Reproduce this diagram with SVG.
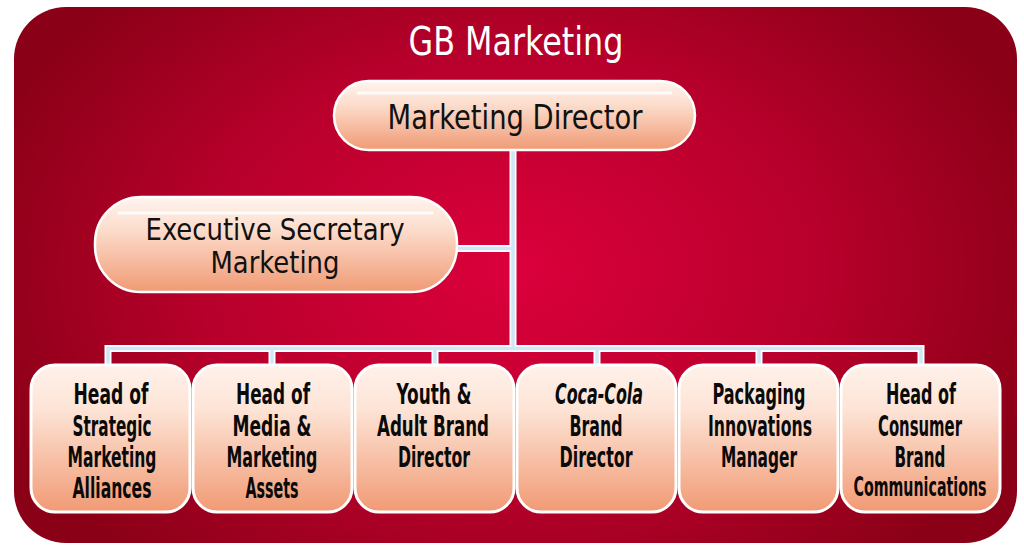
<svg xmlns="http://www.w3.org/2000/svg" width="1024" height="551" viewBox="0 0 1024 551">
<defs>
<radialGradient id="bg" cx="512" cy="270" r="560" gradientUnits="userSpaceOnUse" gradientTransform="translate(512 270) scale(1 0.7) translate(-512 -270)">
<stop offset="0" stop-color="#dc003c"/>
<stop offset="0.55" stop-color="#b8002c"/>
<stop offset="1" stop-color="#8a0016"/>
</radialGradient>
<linearGradient id="nodeg" x1="0" y1="0" x2="0" y2="1">
<stop offset="0" stop-color="#fff4ee"/>
<stop offset="0.35" stop-color="#fcdccb"/>
<stop offset="1" stop-color="#f09a74"/>
</linearGradient>
<linearGradient id="boxg" x1="0" y1="0" x2="0" y2="1">
<stop offset="0" stop-color="#fff1ea"/>
<stop offset="0.3" stop-color="#fde4d6"/>
<stop offset="1" stop-color="#f19a74"/>
</linearGradient>
</defs>
<style>
.node{fill:url(#nodeg);stroke:#ffffff;stroke-width:2.5}
.box{fill:url(#boxg);stroke:#ffffff;stroke-width:3}
.hl{stroke:#ffffff;stroke-width:3;stroke-linecap:round;opacity:0.9}
.lo{fill:none;stroke:#ffffff;stroke-width:7}
.li{fill:none;stroke:#cfe6f8;stroke-width:3.5}
.t{font-family:"Liberation Sans Narrow","DejaVu Sans Condensed","Liberation Sans",sans-serif;font-stretch:condensed;fill:#111;text-anchor:middle}
.tb{font-family:"Liberation Sans Narrow","DejaVu Sans Condensed","Liberation Sans",sans-serif;font-stretch:condensed;font-weight:bold;fill:#0a0a0a;text-anchor:middle;font-size:28px}
</style>
<rect x="14" y="7" width="1003" height="536" rx="52" ry="52" fill="url(#bg)"/>
<text x="516" y="55" class="t" style="fill:#ffffff;font-size:39px" textLength="215" lengthAdjust="spacingAndGlyphs">GB Marketing</text>
<g id="connectors">
<path class="lo" d="M513 150 V347 M456 248.5 H513 M108 365 V348.5 H921 V365 M272 348.5 V365 M435 348.5 V365 M597 348.5 V365 M759 348.5 V365"/>
<path class="li" d="M513 150 V347 M456 248.5 H513 M108 365 V348.5 H921 V365 M272 348.5 V365 M435 348.5 V365 M597 348.5 V365 M759 348.5 V365"/>
</g>
<g id="marketing-director">
<rect class="node" x="334" y="81" width="361" height="69" rx="34.5"/>
<line class="hl" x1="358" y1="93" x2="671" y2="93"/>
<text x="515" y="129" class="t" style="font-size:33px" textLength="255" lengthAdjust="spacingAndGlyphs">Marketing Director</text>
</g>
<g id="executive-secretary">
<rect class="node" x="95" y="197" width="362" height="95" rx="46"/>
<line class="hl" x1="119" y1="213" x2="432" y2="213"/>
<text x="275" y="240" class="t" style="font-size:31px" textLength="259" lengthAdjust="spacingAndGlyphs">Executive Secretary</text>
<text x="275" y="273" class="t" style="font-size:31px" textLength="129" lengthAdjust="spacingAndGlyphs">Marketing</text>
</g>
<g id="strategic-marketing">
<rect class="box" x="31" y="365" width="159" height="147" rx="24"/>
<text class="tb" x="111" y="404" textLength="75" lengthAdjust="spacingAndGlyphs">Head of</text>
<text class="tb" x="112" y="436" textLength="79" lengthAdjust="spacingAndGlyphs">Strategic</text>
<text class="tb" x="112" y="467" textLength="89" lengthAdjust="spacingAndGlyphs">Marketing</text>
<text class="tb" x="112" y="498" textLength="79" lengthAdjust="spacingAndGlyphs">Alliances</text>
</g>
<g id="media-marketing">
<rect class="box" x="193" y="365" width="159" height="147" rx="24"/>
<text class="tb" x="273" y="404" textLength="74" lengthAdjust="spacingAndGlyphs">Head of</text>
<text class="tb" x="272" y="436" textLength="79" lengthAdjust="spacingAndGlyphs">Media &amp;</text>
<text class="tb" x="272" y="467" textLength="91" lengthAdjust="spacingAndGlyphs">Marketing</text>
<text class="tb" x="272" y="498" textLength="53" lengthAdjust="spacingAndGlyphs">Assets</text>
</g>
<g id="youth-adult">
<rect class="box" x="355" y="365" width="159" height="147" rx="24"/>
<text class="tb" x="434" y="404" textLength="75" lengthAdjust="spacingAndGlyphs">Youth &amp;</text>
<text class="tb" x="433" y="436" textLength="112" lengthAdjust="spacingAndGlyphs">Adult Brand</text>
<text class="tb" x="434" y="467" textLength="72" lengthAdjust="spacingAndGlyphs">Director</text>
</g>
<g id="coca-cola">
<rect class="box" x="517" y="365" width="159" height="147" rx="24"/>
<text class="tb" x="599" y="404" style="font-style:italic" textLength="88" lengthAdjust="spacingAndGlyphs">Coca-Cola</text>
<text class="tb" x="596" y="436" textLength="53" lengthAdjust="spacingAndGlyphs">Brand</text>
<text class="tb" x="596" y="467" textLength="73" lengthAdjust="spacingAndGlyphs">Director</text>
</g>
<g id="packaging">
<rect class="box" x="679" y="365" width="159" height="147" rx="24"/>
<text class="tb" x="759" y="404" textLength="93" lengthAdjust="spacingAndGlyphs">Packaging</text>
<text class="tb" x="760" y="436" textLength="104" lengthAdjust="spacingAndGlyphs">Innovations</text>
<text class="tb" x="759" y="467" textLength="76" lengthAdjust="spacingAndGlyphs">Manager</text>
</g>
<g id="consumer-brand">
<rect class="box" x="841" y="365" width="159" height="147" rx="24"/>
<text class="tb" x="921" y="404" textLength="70" lengthAdjust="spacingAndGlyphs">Head of</text>
<text class="tb" x="920" y="436" textLength="84" lengthAdjust="spacingAndGlyphs">Consumer</text>
<text class="tb" x="920" y="467" textLength="51" lengthAdjust="spacingAndGlyphs">Brand</text>
<text class="tb" x="920" y="496" style="font-size:27px" textLength="133" lengthAdjust="spacingAndGlyphs">Communications</text>
</g>
</svg>
